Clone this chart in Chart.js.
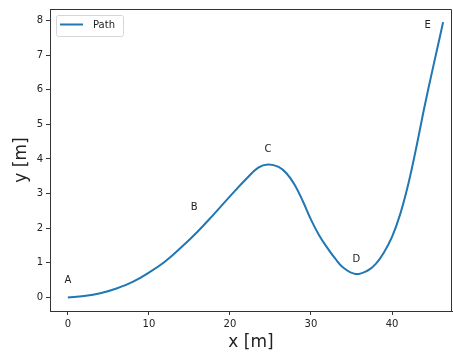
<!DOCTYPE html>
<html>
<head>
<meta charset="utf-8">
<script src="https://cdn.jsdelivr.net/npm/chart.js@4"></script>
<style>
  html, body { margin: 0; padding: 0; background: #fff; }
  #wrap { width: 453px; height: 354px; }
</style>
</head>
<body>
<div id="wrap"><canvas id="pathChart"></canvas></div>
<script>
    // Path samples
    const pathX = [0, 2, 4, 6, 8, 10, 12, 14, 16, 18, 20, 22, 23.5, 24.7, 26, 27, 28, 29, 30, 31, 32, 33, 34, 35.5, 37, 38, 39, 40, 41, 42, 43, 44, 45, 46, 46.3];
    const pathY = [0, 0.04, 0.12, 0.26, 0.45, 0.72, 1.04, 1.45, 1.9, 2.4, 2.92, 3.42, 3.75, 3.84, 3.77, 3.58, 3.25, 2.78, 2.25, 1.8, 1.44, 1.12, 0.86, 0.68, 0.78, 0.97, 1.3, 1.75, 2.4, 3.27, 4.34, 5.5, 6.58, 7.63, 7.95];

    // Waypoint labels
    const pointNames = ['A', 'B', 'C', 'D', 'E'];
    const pointLabelX = [0, 15.6, 24.7, 35.6, 44.4];
    const pointLabelY = [0.5, 2.6, 4.28, 1.1, 7.86];

    // Axis ticks
    const xTicks = [0, 10, 20, 30, 40];
    const yTicks = [0, 1, 2, 3, 4, 5, 6, 7, 8];

    const FONT = 'DejaVu Sans';
    const INK = '#222';
    const SPINE = '#333';

    const pathData = pathX.map((x, i) => ({ x: x, y: pathY[i] }));

    // Frame, point labels and legend box
    const overlay = {
      id: 'overlay',
      afterDraw(chart) {
        const { ctx, chartArea: a, scales: { x, y } } = chart;
        ctx.save();

        // top and right spines
        ctx.strokeStyle = SPINE;
        ctx.lineWidth = 1;
        ctx.beginPath();
        ctx.moveTo(a.left, a.top + 0.5);
        ctx.lineTo(a.right - 0.5, a.top + 0.5);
        ctx.lineTo(a.right - 0.5, a.bottom);
        ctx.stroke();

        // waypoint letters
        ctx.font = '10px "' + FONT + '"';
        ctx.fillStyle = INK;
        ctx.textAlign = 'center';
        ctx.textBaseline = 'middle';
        pointNames.forEach((name, i) => {
          ctx.fillText(name, x.getPixelForValue(pointLabelX[i]), y.getPixelForValue(pointLabelY[i]));
        });

        // legend
        const ds = chart.data.datasets[0];
        const bx = a.left + 6, by = a.top + 6, bw = 67, bh = 21;
        ctx.beginPath();
        ctx.roundRect(bx + 0.5, by + 0.5, bw, bh, 2);
        ctx.fillStyle = 'rgba(255,255,255,0.8)';
        ctx.fill();
        ctx.strokeStyle = '#d6d6d6';
        ctx.stroke();
        ctx.beginPath();
        ctx.moveTo(bx + 4, by + 9.5);
        ctx.lineTo(bx + 27, by + 9.5);
        ctx.strokeStyle = ds.borderColor;
        ctx.lineWidth = 2;
        ctx.stroke();
        ctx.fillStyle = INK;
        ctx.textAlign = 'left';
        ctx.fillText(ds.label, bx + 37, by + 10.5);

        ctx.restore();
      }
    };

    new Chart(document.getElementById('pathChart'), {
      type: 'scatter',
      data: {
        datasets: [{
          label: 'Path',
          data: pathData,
          showLine: true,
          borderColor: '#1f77b4',
          borderWidth: 2,
          pointRadius: 0,
          tension: 0.4
        }]
      },
      options: {
        responsive: true,
        maintainAspectRatio: false,
        animation: false,
        layout: {
          padding: { top: 5, right: 1, left: 0, bottom: 0 }
        },
        plugins: {
          legend: { display: false },
          tooltip: { enabled: false }
        },
        scales: {
          x: {
            type: 'linear',
            min: -2.2,
            max: 47.4,
            afterBuildTicks: s => { s.ticks = xTicks.map(v => ({ value: v })); },
            afterFit: s => { s.height = 43; },
            ticks: {
              font: { family: FONT, size: 10 },
              color: INK,
              padding: 3,
              maxRotation: 0
            },
            grid: { drawOnChartArea: false, tickLength: 4, color: SPINE },
            border: { color: SPINE },
            title: {
              display: true,
              text: 'x [m]',
              font: { family: FONT, size: 17 },
              color: INK,
              padding: { top: 0, bottom: 1 }
            }
          },
          y: {
            min: -0.39,
            max: 8.33,
            afterBuildTicks: s => { s.ticks = yTicks.map(v => ({ value: v })); },
            afterFit: s => { s.width = 50; },
            ticks: {
              font: { family: FONT, size: 10 },
              color: INK,
              padding: 3
            },
            grid: { drawOnChartArea: false, tickLength: 4, color: SPINE },
            border: { color: SPINE },
            title: {
              display: true,
              text: 'y [m]',
              font: { family: FONT, size: 17 },
              color: INK,
              padding: { top: 11, bottom: 0 }
            }
          }
        }
      },
      plugins: [overlay]
    });
</script>
</body>
</html>
